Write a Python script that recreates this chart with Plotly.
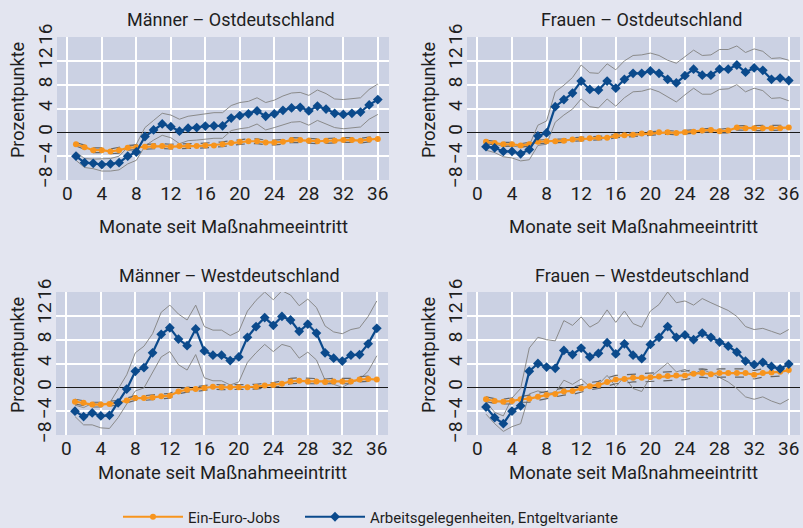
import plotly.graph_objects as go

months = list(range(1, 37))

panel_titles = ["Männer – Ostdeutschland", "Frauen – Ostdeutschland",
                "Männer – Westdeutschland", "Frauen – Westdeutschland"]
x_title = "Monate seit Maßnahmeeintritt"
y_title = "Prozentpunkte"

x_ticks = [0, 4, 8, 12, 16, 20, 24, 28, 32, 36]
y_ticks = [-8, -4, 0, 4, 8, 12, 16]

# ---- Männer Ost ----
mo_ag = [-4.0, -5.1, -5.2, -5.4, -5.3, -5.1, -4.0, -3.3, -0.7, 0.4, 1.4, 0.95, 0.2, 0.7, 0.8, 1.06, 1.1, 1.1,
         2.4, 2.8, 3.1, 3.6, 2.7, 3.1, 3.7, 4.1, 4.2, 3.6, 4.4, 3.9, 3.2, 3.0, 3.2, 3.4, 4.6, 5.5]
mo_ag_hi = [-3.3, -4.4, -4.5, -4.5, -4.4, -4.0, -2.5, -2.0, 0.8, 2.0, 3.2, 2.9, 2.2, 2.7, 2.9, 3.2, 3.3, 3.3,
            4.5, 5.0, 5.2, 5.8, 5.0, 5.4, 6.1, 6.6, 6.7, 6.2, 7.1, 6.5, 5.6, 5.5, 5.6, 5.8, 7.2, 8.1]
mo_ag_lo = [-4.7, -5.9, -6.1, -6.5, -6.5, -6.3, -5.3, -4.7, -2.3, -1.3, -0.5, -0.9, -1.9, -1.4, -1.3, -1.1, -1.0, -1.0,
            0.3, 0.6, 0.8, 1.4, 0.4, 0.8, 1.3, 1.7, 1.8, 1.2, 2.0, 1.4, 0.8, 0.6, 0.7, 0.9, 2.2, 3.0]
mo_ee = [-2.0, -2.5, -3.0, -3.0, -3.2, -3.0, -2.6, -2.5, -2.4, -2.3, -2.3, -2.4, -2.3, -2.3, -2.3, -2.2, -2.2, -2.0,
         -1.8, -1.6, -1.5, -1.5, -1.7, -1.7, -1.6, -1.3, -1.3, -1.4, -1.5, -1.4, -1.4, -1.3, -1.3, -1.4, -1.2, -1.1]
mo_ee_hi = [-1.7, -2.2, -2.6, -2.6, -2.8, -2.5, -2.2, -2.1, -2.0, -1.9, -1.9, -2.0, -1.9, -1.9, -1.9, -1.8, -1.8, -1.6,
            -1.4, -1.2, -1.1, -1.1, -1.3, -1.3, -1.2, -0.9, -0.9, -1.0, -1.1, -1.0, -1.0, -0.9, -0.9, -1.0, -0.8, -0.7]
mo_ee_lo = [-2.3, -2.8, -3.4, -3.4, -3.6, -3.5, -3.0, -2.9, -2.8, -2.7, -2.7, -2.8, -2.7, -2.7, -2.7, -2.6, -2.6, -2.4,
            -2.2, -2.0, -1.9, -1.9, -2.1, -2.1, -2.0, -1.7, -1.7, -1.8, -1.9, -1.8, -1.8, -1.7, -1.7, -1.8, -1.6, -1.5]

# ---- Frauen Ost ----
fo_ag = [-2.4, -2.6, -3.2, -3.2, -3.6, -2.9, -0.6, -0.1, 4.3, 5.5, 6.6, 8.6, 7.2, 7.1, 8.6, 7.4, 8.9, 9.9,
         9.9, 10.3, 9.9, 8.9, 8.3, 9.5, 10.6, 9.6, 9.6, 10.6, 10.6, 11.3, 10.1, 10.8, 10.4, 8.9, 9.1, 8.7]
fo_ag_hi = [-1.5, -2.0, -2.4, -2.3, -2.5, -2.2, 1.2, 1.9, 6.8, 7.9, 9.2, 11.3, 10.0, 9.9, 11.5, 10.5, 12.0, 12.9,
            13.0, 13.3, 12.9, 12.1, 11.6, 12.7, 13.8, 12.9, 13.0, 13.9, 13.9, 14.5, 13.4, 14.0, 13.6, 12.4, 12.5, 12.1]
fo_ag_lo = [-3.0, -3.4, -4.1, -4.3, -4.8, -4.6, -2.2, -2.0, 1.7, 2.9, 3.9, 5.6, 4.3, 4.1, 5.6, 4.4, 5.8, 6.8,
            6.9, 7.3, 6.8, 5.9, 5.1, 6.3, 7.4, 6.4, 6.4, 7.2, 7.3, 8.0, 6.8, 7.4, 7.0, 5.7, 5.8, 5.3]
fo_ee = [-1.6, -1.8, -2.0, -2.0, -2.2, -2.0, -1.6, -1.5, -1.5, -1.4, -1.2, -1.1, -1.0, -0.9, -0.9, -0.6, -0.5, -0.4,
         -0.2, -0.1, 0.0, 0.0, -0.1, 0.0, 0.1, 0.3, 0.4, 0.2, 0.3, 0.8, 0.7, 0.7, 0.7, 0.7, 0.7, 0.8]
fo_ee_hi = [-1.3, -1.5, -1.7, -1.7, -1.9, -1.7, -1.3, -1.2, -1.2, -1.1, -0.9, -0.8, -0.7, -0.6, -0.6, -0.3, -0.2, -0.1,
            0.1, 0.2, 0.3, 0.3, 0.2, 0.3, 0.4, 0.6, 0.7, 0.5, 0.7, 1.1, 1.1, 1.1, 1.1, 1.1, 1.1, 1.2]
fo_ee_lo = [-1.9, -2.1, -2.3, -2.3, -2.5, -2.3, -1.9, -1.8, -1.8, -1.7, -1.5, -1.4, -1.3, -1.2, -1.2, -0.9, -0.8, -0.7,
            -0.5, -0.4, -0.3, -0.3, -0.4, -0.3, -0.2, 0.0, 0.1, -0.1, -0.1, 0.4, 0.3, 0.3, 0.3, 0.3, 0.3, 0.4]

# ---- Männer West ----
mw_ag = [-4.0, -4.9, -4.3, -4.8, -4.7, -2.6, -0.3, 2.7, 3.3, 5.8, 8.9, 10.0, 8.1, 7.0, 9.8, 6.1, 5.4, 5.4,
         4.5, 5.1, 8.4, 10.2, 11.7, 10.4, 11.9, 11.3, 9.4, 10.6, 9.1, 5.8, 4.9, 4.4, 5.4, 5.5, 7.3, 9.9]
mw_ag_hi = [-3.0, -3.4, -2.7, -2.9, -2.7, -0.2, 2.1, 5.8, 6.9, 9.0, 12.6, 13.8, 12.3, 11.3, 13.8, 10.2, 9.6, 9.6,
            8.7, 9.4, 12.8, 14.6, 16.0, 14.7, 16.2, 15.5, 13.7, 14.8, 13.4, 10.3, 9.3, 9.0, 9.7, 10.0, 11.9, 14.5]
mw_ag_lo = [-4.9, -6.3, -6.3, -6.8, -6.9, -5.1, -2.8, -0.6, -0.1, 2.4, 5.1, 6.0, 3.8, 2.9, 5.5, 1.6, 1.1, 1.1,
            0.4, 0.9, 4.2, 5.8, 7.2, 6.0, 7.2, 6.8, 4.9, 5.9, 4.6, 1.2, 0.5, 0.0, 0.8, 1.3, 2.7, 5.3]
mw_ee = [-2.4, -2.6, -2.9, -2.9, -2.8, -2.6, -2.2, -1.8, -1.8, -1.7, -1.5, -1.4, -0.7, -0.4, -0.3, -0.1, 0.1, 0.0,
         0.0, 0.0, 0.0, 0.1, 0.3, 0.4, 0.6, 1.0, 1.1, 1.0, 1.0, 0.9, 1.0, 1.0, 1.0, 1.3, 1.4, 1.3]
mw_ee_hi = [-2.0, -2.2, -2.5, -2.5, -2.4, -2.2, -1.8, -1.4, -1.4, -1.3, -1.1, -1.0, -0.3, 0.0, 0.1, 0.3, 0.5, 0.4,
            0.4, 0.4, 0.4, 0.5, 0.7, 0.8, 1.1, 1.5, 1.6, 1.5, 1.5, 1.4, 1.5, 1.5, 1.5, 1.8, 1.9, 1.8]
mw_ee_lo = [-2.8, -3.0, -3.3, -3.3, -3.2, -3.0, -2.6, -2.2, -2.2, -2.1, -1.9, -1.8, -1.1, -0.8, -0.7, -0.5, -0.3, -0.4,
            -0.4, -0.4, -0.4, -0.3, -0.1, 0.0, 0.2, 0.6, 0.7, 0.6, 0.6, 0.5, 0.6, 0.6, 0.6, 0.9, 1.0, 0.9]

# ---- Frauen West ----
fw_ag = [-3.3, -5.1, -6.1, -4.0, -3.1, 2.7, 4.0, 3.4, 3.2, 6.2, 5.5, 6.6, 5.1, 5.7, 7.5, 5.6, 7.3, 5.4,
         4.8, 7.2, 8.4, 10.2, 8.4, 8.8, 8.0, 9.1, 8.4, 7.6, 6.9, 5.9, 4.4, 3.8, 4.2, 3.5, 3.1, 3.9]
fw_ag_hi = [-2.4, -4.2, -4.8, -1.8, -0.2, 6.6, 8.4, 8.0, 7.8, 11.2, 10.4, 11.8, 10.1, 10.9, 13.0, 10.9, 12.8, 10.7,
            10.1, 12.8, 13.9, 16.0, 14.2, 14.5, 13.8, 14.9, 14.2, 13.5, 12.9, 11.9, 10.2, 9.7, 9.9, 9.4, 8.9, 9.7]
fw_ag_lo = [-4.5, -6.1, -7.4, -6.6, -6.1, -1.1, -0.6, -1.0, -0.9, 1.2, 0.5, 1.4, 0.1, 0.5, 2.0, 0.1, 1.8, -0.2,
            -0.7, 1.7, 2.9, 4.1, 2.6, 3.0, 2.2, 3.0, 2.4, 1.6, 0.9, -0.2, -1.6, -2.0, -1.6, -2.3, -2.8, -2.0]
fw_ee = [-2.0, -2.3, -2.4, -2.3, -2.0, -1.9, -1.6, -1.3, -1.1, -0.7, -0.6, -0.2, 0.2, 0.4, 0.9, 1.3, 1.4, 1.6,
         1.6, 1.7, 1.8, 1.9, 2.0, 2.0, 2.3, 2.4, 2.2, 2.4, 2.4, 2.4, 2.4, 2.1, 2.4, 2.5, 2.6, 2.9]
fw_ee_hi = [-1.6, -1.9, -2.0, -1.8, -1.5, -1.3, -1.0, -0.7, -0.5, -0.1, 0.0, 0.4, 0.8, 1.0, 1.6, 2.0, 2.1, 2.3,
            2.3, 2.4, 2.5, 2.6, 2.7, 2.7, 3.0, 3.1, 2.9, 3.1, 3.1, 3.1, 3.1, 2.8, 3.1, 3.2, 3.3, 3.5]
fw_ee_lo = [-2.4, -2.7, -2.8, -2.8, -2.5, -2.5, -2.2, -1.9, -1.7, -1.3, -1.2, -0.8, -0.4, -0.2, 0.2, 0.6, 0.7, 0.9,
            0.9, 1.0, 1.1, 1.2, 1.3, 1.3, 1.6, 1.7, 1.5, 1.7, 1.7, 1.7, 1.7, 1.4, 1.7, 1.8, 1.9, 2.3]

panels = [
    (mo_ag, mo_ag_hi, mo_ag_lo, mo_ee, mo_ee_hi, mo_ee_lo),
    (fo_ag, fo_ag_hi, fo_ag_lo, fo_ee, fo_ee_hi, fo_ee_lo),
    (mw_ag, mw_ag_hi, mw_ag_lo, mw_ee, mw_ee_hi, mw_ee_lo),
    (fw_ag, fw_ag_hi, fw_ag_lo, fw_ee, fw_ee_hi, fw_ee_lo),
]

W, H = 803, 528
# plot-area pixel boxes: (left, right, top, bottom)
boxes = [(57, 389, 37, 180), (467, 800, 37, 180), (56, 388, 292, 435), (467, 800, 292, 435)]

ORANGE = "#f7941d"
BLUE = "#0b4a8c"
FONT = "Roboto"
TXT = "#1e1e1e"
PAPER = "#e3e5f0"

fig = go.Figure()
layout_axes = {}
annotations = []

for i, ((ag, ag_hi, ag_lo, ee, ee_hi, ee_lo), (l, r, t, b)) in enumerate(zip(panels, boxes)):
    n = "" if i == 0 else str(i + 1)
    xa, ya = "x" + n, "y" + n
    common = dict(xaxis=xa, yaxis=ya, x=months)
    for band in (ag_hi, ag_lo):
        fig.add_trace(go.Scatter(y=band, mode="lines", line=dict(color="#8a8a8a", width=1),
                                 showlegend=False, hoverinfo="skip", **common))
    for band in (ee_hi, ee_lo):
        fig.add_trace(go.Scatter(y=band, mode="lines", line=dict(color="#666666", width=1.2, dash="dash"),
                                 showlegend=False, hoverinfo="skip", **common))
    fig.add_trace(go.Scatter(y=ee, mode="lines+markers", name="Ein-Euro-Jobs",
                             line=dict(color=ORANGE, width=2.2),
                             marker=dict(symbol="circle", size=6, color=ORANGE),
                             showlegend=(i == 0), legend="legend", **common))
    fig.add_trace(go.Scatter(y=ag, mode="lines+markers", name="Arbeitsgelegenheiten, Entgeltvariante",
                             line=dict(color=BLUE, width=2.2),
                             marker=dict(symbol="diamond", size=7.5, color=BLUE),
                             showlegend=(i == 0), legend="legend2", **common))

    layout_axes["xaxis" + n] = dict(
        domain=[l / W, r / W], anchor=ya, range=[-1.2, 37.3], tickvals=x_ticks,
        showgrid=True, gridcolor="white", gridwidth=1.5, zeroline=False, showline=False,
        ticks="", tickfont=dict(size=19, color=TXT), automargin=False,
    )
    layout_axes["yaxis" + n] = dict(
        domain=[1 - b / H, 1 - t / H], anchor=xa, range=[-8, 16], tickvals=y_ticks,
        showgrid=True, gridcolor="white", gridwidth=1.5, zeroline=True, zerolinecolor="#1a1a1a",
        zerolinewidth=1.3, showline=False, ticks="", tickangle=-90,
        tickfont=dict(size=19, color=TXT), automargin=False,
    )
    cx = (l + r) / 2 / W
    annotations.append(dict(text=panel_titles[i], x=((l + r) / 2 + 8) / W, y=1 - (t - 17) / H,
                            xref="paper", yref="paper", xanchor="center", yanchor="middle",
                            showarrow=False, font=dict(size=18, color=TXT)))
    xt_y = 227 if i < 2 else 473
    annotations.append(dict(text=x_title, x=cx, y=1 - xt_y / H,
                            xref="paper", yref="paper", xanchor="center", yanchor="middle",
                            showarrow=False, font=dict(size=18.5, color=TXT)))
    yt_y = 100 if i < 2 else 355
    yt_x = 17 if i % 2 == 0 else 428
    annotations.append(dict(text=y_title, x=yt_x / W, y=1 - yt_y / H, textangle=-90,
                            xref="paper", yref="paper", xanchor="center", yanchor="middle",
                            showarrow=False, font=dict(size=18, color=TXT)))

legend_common = dict(orientation="h", y=1 - 517 / H, xanchor="left", yanchor="middle",
                     bgcolor="rgba(0,0,0,0)", font=dict(size=15, color=TXT), itemwidth=60)

fig.update_layout(
    width=W, height=H, margin=dict(l=0, r=0, t=0, b=0, autoexpand=False),
    paper_bgcolor=PAPER, plot_bgcolor="#cbd1e3",
    font=dict(family=FONT, size=16, color=TXT),
    annotations=annotations,
    legend=dict(x=118 / W, **legend_common),
    legend2=dict(x=300 / W, **legend_common),
    **layout_axes,
)

fig.write_html(
    "out.html",
    config={"displayModeBar": False},
    post_script="document.body.style.margin='0';document.body.style.padding='0';"
                "document.body.style.background='" + PAPER + "';",
)
